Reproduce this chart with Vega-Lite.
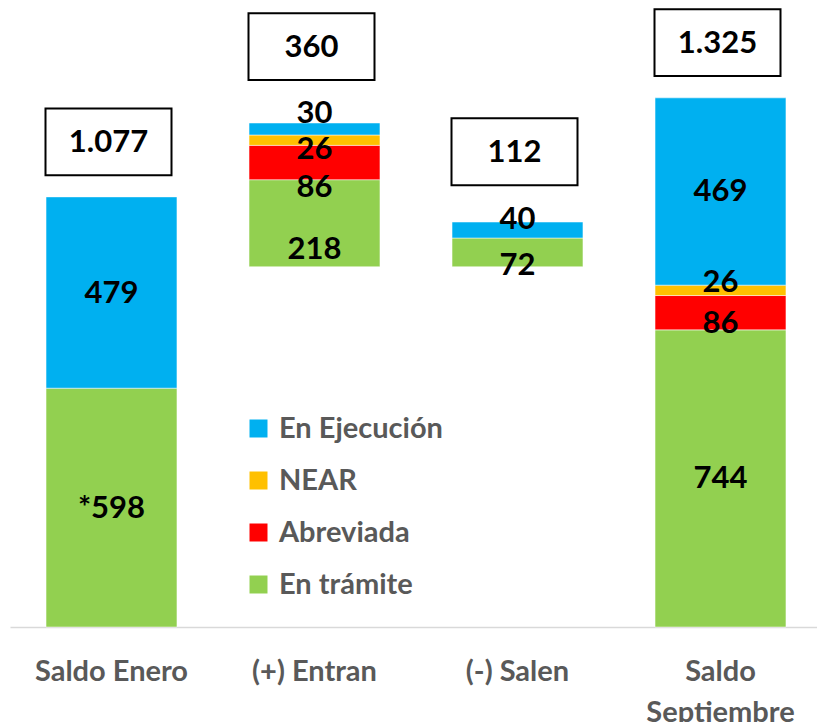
{
  "$schema": "https://vega.github.io/schema/vega-lite/v6.json",
  "width": 812,
  "height": 627,
  "autosize": {"type": "none"},
  "padding": {"left": 10, "top": 0, "right": 0, "bottom": 95},
  "background": "white",
  "config": {
    "view": {"stroke": null},
    "locale": {"number": {"decimal": ",", "thousands": ".", "grouping": [3], "currency": ["", " €"]}}
  },
  "datasets": {
    "segs": [
      {"paso": "Saldo Enero", "estado": "En trámite", "start": 0, "end": 598, "valor": 598, "label": "*598"},
      {"paso": "Saldo Enero", "estado": "En Ejecución", "start": 598, "end": 1077, "valor": 479, "label": "479"},
      {"paso": "(+) Entran", "estado": "En trámite", "start": 902, "end": 1120, "valor": 218, "label": "218"},
      {"paso": "(+) Entran", "estado": "Abreviada", "start": 1120, "end": 1206, "valor": 86, "label": "86"},
      {"paso": "(+) Entran", "estado": "NEAR", "start": 1206, "end": 1232, "valor": 26, "label": "26"},
      {"paso": "(+) Entran", "estado": "En Ejecución", "start": 1232, "end": 1262, "valor": 30, "label": "30"},
      {"paso": "(-) Salen", "estado": "En trámite", "start": 902, "end": 974, "valor": 72, "label": "72"},
      {"paso": "(-) Salen", "estado": "En Ejecución", "start": 974, "end": 1014, "valor": 40, "label": "40"},
      {"paso": "Saldo Septiembre", "estado": "En trámite", "start": 0, "end": 744, "valor": 744, "label": "744"},
      {"paso": "Saldo Septiembre", "estado": "Abreviada", "start": 744, "end": 830, "valor": 86, "label": "86"},
      {"paso": "Saldo Septiembre", "estado": "NEAR", "start": 830, "end": 856, "valor": 26, "label": "26"},
      {"paso": "Saldo Septiembre", "estado": "En Ejecución", "start": 856, "end": 1325, "valor": 469, "label": "469"}
    ]
  },
  "encoding": {
    "x": {
      "field": "paso",
      "type": "nominal",
      "sort": ["Saldo Enero", "(+) Entran", "(-) Salen", "Saldo Septiembre"],
      "scale": {"paddingInner": 0.355, "paddingOuter": 0.1775},
      "title": null,
      "axis": {
        "domainColor": "#d9d9d9",
        "domainWidth": 1.5,
        "ticks": false,
        "labelAngle": 0,
        "labelPadding": 30,
        "labelFont": "Lato",
        "labelFontWeight": "bold",
        "labelFontSize": 29,
        "labelColor": "#595959",
        "labelLimit": 0,
        "labelBaseline": "top",
        "labelLineHeight": 41,
        "labelExpr": "datum.label == 'Saldo Septiembre' ? ['Saldo', 'Septiembre'] : datum.label"
      }
    }
  },
  "layer": [
    {
      "data": {"name": "segs"},
      "mark": {"type": "bar", "stroke": "white", "strokeWidth": 0.5},
      "encoding": {
        "y": {"field": "start", "type": "quantitative", "scale": {"domain": [0, 1570], "nice": false, "zero": true}, "axis": null},
        "y2": {"field": "end"},
        "color": {
          "field": "estado",
          "type": "nominal",
          "scale": {
            "domain": ["En Ejecución", "NEAR", "Abreviada", "En trámite"],
            "range": ["#00B0F0", "#FFC000", "#FF0000", "#92D050"]
          },
          "legend": {
            "title": null,
            "orient": "none",
            "legendX": 234,
            "legendY": 414,
            "padding": 0,
            "symbolType": "square",
            "symbolSize": 324,
            "symbolStrokeWidth": 0,
            "labelFont": "Lato",
            "labelFontWeight": "bold",
            "labelFontSize": 29,
            "labelColor": "#595959",
            "labelOffset": 6,
            "rowPadding": 22,
            "labelLimit": 0
          }
        }
      }
    },
    {
      "data": {"name": "segs"},
      "transform": [
        {
          "calculate": "(datum.start + datum.end) / 2 + (datum.paso == '(+) Entran' ? (datum.estado == 'En Ejecución' ? 40 : datum.estado == 'NEAR' ? -22 : datum.estado == 'Abreviada' ? -62 : -65) : datum.paso == '(-) Salen' ? (datum.estado == 'En Ejecución' ? 27 : -31) : datum.paso == 'Saldo Septiembre' ? (datum.estado == 'NEAR' ? 20 : datum.estado == 'Abreviada' ? -25 : 0) : 0)",
          "as": "ly"
        }
      ],
      "mark": {"type": "text", "font": "Lato", "fontWeight": "bold", "fontSize": 31, "color": "black", "baseline": "middle", "align": "center", "dy": 1},
      "encoding": {
        "y": {"field": "ly", "type": "quantitative"},
        "text": {"field": "label"}
      }
    },
    {
      "data": {"name": "segs"},
      "transform": [
        {"aggregate": [{"op": "sum", "field": "valor", "as": "total"}, {"op": "max", "field": "end", "as": "tope"}], "groupby": ["paso"]},
        {"calculate": "datum.tope + (datum.paso == '(+) Entran' ? 191 : datum.paso == '(-) Salen' ? 176 : 138)", "as": "by"}
      ],
      "layer": [
        {
          "mark": {
            "type": "point",
            "shape": "M-1,-0.53L1,-0.53L1,0.53L-1,0.53Z",
            "size": 15876,
            "filled": false,
            "fill": "white",
            "fillOpacity": 1,
            "stroke": "black",
            "strokeWidth": 2,
            "opacity": 1,
            "xOffset": -3
          },
          "encoding": {
            "y": {"field": "by", "type": "quantitative"}
          }
        },
        {
          "mark": {"type": "text", "font": "Lato", "fontWeight": "bold", "fontSize": 31, "color": "black", "baseline": "middle", "align": "center", "dx": -3, "dy": 1},
          "encoding": {
            "y": {"field": "by", "type": "quantitative"},
            "text": {"field": "total", "type": "quantitative", "format": ","}
          }
        }
      ]
    }
  ]
}
